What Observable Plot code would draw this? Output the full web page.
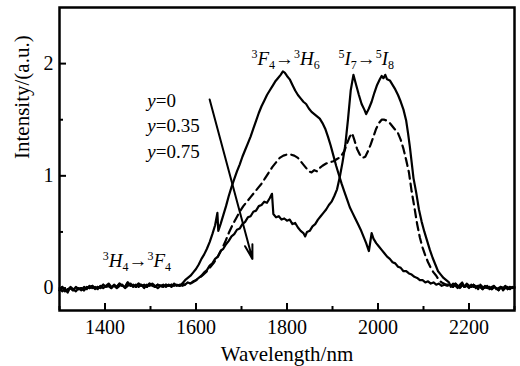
<!DOCTYPE html>
<html><head><meta charset="utf-8">
<script src="https://cdn.jsdelivr.net/npm/d3@7"></script>
<script src="https://cdn.jsdelivr.net/npm/@observablehq/plot@0.6"></script>
<style>body{margin:0;background:#fff} svg{display:block} svg text{font-family:"Liberation Serif","Times New Roman",serif !important;}</style>
</head><body><div id="chart"></div>
<script>
// ---------- data ----------
const baseLeftX = [1300,1306,1312,1318,1324,1330,1336,1342,1348,1354,1360,1366,1372,1378,1384,1390,1396,1402,1408,1414,1420,1426,1432,1438,1444,1450,1456,1462,1468,1474,1480,1486,1492,1498,1504,1510,1516,1522,1528,1534,1540,1546,1552,1558,1564,1570];
const baseLeftY1 = [-0.02,0.01,-0.03,-0.01,0.00,-0.02,0.01,-0.01,0.00,-0.02,0.01,0.00,0.02,-0.01,0.01,0.00,0.03,0.01,0.02,0.00,0.03,0.01,0.04,0.02,0.01,0.05,0.02,0.03,0.01,0.04,0.02,0.03,0.01,0.04,0.02,0.01,0.03,0.02,0.01,0.03,0.02,0.03,0.02,0.03,0.02,0.04];
const baseLeftY2 = [0.00,-0.03,-0.01,-0.04,0.01,-0.01,-0.03,0.00,-0.02,0.01,-0.01,0.02,0.00,0.01,-0.01,0.02,0.00,0.02,0.04,0.01,0.02,0.00,0.02,0.03,0.00,0.02,0.04,0.01,0.03,0.01,0.03,0.00,0.03,0.02,0.04,0.02,0.00,0.02,0.03,0.01,0.03,0.01,0.04,0.02,0.03,0.02];
const baseRightX = [2160,2165,2170,2175,2180,2185,2190,2195,2200,2205,2210,2215,2220,2225,2230,2235,2240,2245,2250,2255,2260,2265,2270,2275,2280,2285,2290,2295,2300];
const baseRightY1 = [0.03,0.01,0.04,0.02,0.00,0.03,0.01,0.04,0.02,0.01,0.03,0.00,0.02,0.01,-0.01,0.02,0.00,0.01,-0.01,0.01,0.00,-0.02,0.01,0.00,0.02,-0.01,0.01,0.00,0.01];
const baseRightY2 = [0.01,0.04,0.02,0.00,0.03,0.05,0.01,0.02,0.00,0.03,0.01,0.02,-0.01,0.03,0.01,0.00,0.02,-0.01,0.01,0.02,-0.01,0.00,0.01,-0.02,0.00,0.01,-0.01,0.01,0.00];

// y = 0 (solid, 3F4->3H6 band)
const midA = [[1576,0.07],[1582,0.09],[1588,0.11],[1594,0.14],[1600,0.17],[1606,0.21],[1612,0.26],[1618,0.30],[1624,0.35],[1630,0.41],[1636,0.48],[1642,0.56],[1647,0.67],[1649,0.51],[1654,0.57],[1660,0.65],[1666,0.73],[1672,0.82],[1678,0.90],[1684,0.97],[1690,1.04],[1696,1.10],[1702,1.17],[1708,1.23],[1714,1.29],[1720,1.35],[1726,1.42],[1732,1.49],[1738,1.56],[1744,1.62],[1750,1.67],[1756,1.72],[1762,1.76],[1768,1.80],[1774,1.84],[1780,1.87],[1786,1.90],[1791,1.93],[1795,1.92],[1800,1.89],[1806,1.86],[1812,1.81],[1818,1.76],[1824,1.72],[1830,1.69],[1836,1.66],[1842,1.64],[1848,1.60],[1854,1.57],[1860,1.55],[1866,1.53],[1872,1.51],[1878,1.47],[1884,1.42],[1890,1.35],[1896,1.27],[1902,1.18],[1908,1.09],[1914,1.01],[1920,0.93],[1926,0.86],[1932,0.79],[1938,0.72],[1944,0.67],[1950,0.62],[1956,0.57],[1962,0.52],[1968,0.46],[1974,0.40],[1980,0.33],[1986,0.49],[1990,0.44],[1996,0.40],[2002,0.37],[2008,0.34],[2014,0.31],[2020,0.28],[2026,0.26],[2032,0.23],[2038,0.22],[2044,0.19],[2050,0.18],[2056,0.15],[2062,0.15],[2068,0.13],[2074,0.12],[2080,0.10],[2086,0.09],[2092,0.07],[2098,0.07],[2104,0.05],[2110,0.06],[2116,0.04],[2122,0.05],[2128,0.03],[2134,0.04],[2140,0.02],[2146,0.03],[2152,0.02]];
// y = 0.35 (dashed)
const midB = [[1576,0.03],[1584,0.04],[1592,0.05],[1600,0.07],[1608,0.09],[1616,0.12],[1624,0.15],[1632,0.19],[1640,0.23],[1648,0.28],[1656,0.34],[1664,0.41],[1672,0.49],[1680,0.56],[1688,0.62],[1696,0.68],[1704,0.73],[1712,0.77],[1720,0.81],[1728,0.85],[1736,0.89],[1744,0.93],[1752,0.98],[1760,1.03],[1768,1.08],[1776,1.12],[1784,1.16],[1792,1.18],[1800,1.19],[1808,1.19],[1816,1.18],[1824,1.16],[1832,1.12],[1840,1.08],[1848,1.04],[1854,1.03],[1860,1.05],[1866,1.04],[1872,1.07],[1878,1.09],[1886,1.11],[1894,1.12],[1902,1.13],[1910,1.15],[1918,1.17],[1926,1.22],[1932,1.29],[1938,1.35],[1943,1.38],[1948,1.32],[1954,1.24],[1960,1.19],[1966,1.16],[1972,1.17],[1978,1.22],[1984,1.28],[1990,1.35],[1996,1.42],[2002,1.47],[2008,1.50],[2014,1.50],[2020,1.49],[2026,1.47],[2032,1.44],[2038,1.41],[2044,1.38],[2050,1.32],[2056,1.24],[2062,1.14],[2068,1.03],[2074,0.86],[2080,0.72],[2086,0.57],[2092,0.45],[2098,0.36],[2104,0.29],[2110,0.23],[2116,0.18],[2122,0.14],[2128,0.11],[2134,0.07],[2140,0.05],[2150,0.03]];
// y = 0.75 (solid, 5I7->5I8 band)
const midC = [[1576,0.03],[1582,0.05],[1588,0.04],[1594,0.06],[1600,0.07],[1606,0.09],[1612,0.11],[1618,0.14],[1624,0.16],[1630,0.20],[1636,0.22],[1642,0.26],[1648,0.28],[1654,0.33],[1660,0.35],[1666,0.39],[1672,0.42],[1678,0.46],[1684,0.48],[1690,0.52],[1696,0.53],[1702,0.57],[1708,0.59],[1714,0.63],[1720,0.64],[1726,0.68],[1732,0.69],[1738,0.73],[1744,0.74],[1750,0.77],[1756,0.76],[1762,0.80],[1767,0.84],[1770,0.66],[1776,0.63],[1782,0.64],[1788,0.61],[1794,0.62],[1800,0.60],[1806,0.61],[1812,0.57],[1818,0.58],[1824,0.54],[1830,0.51],[1836,0.49],[1840,0.46],[1844,0.50],[1850,0.51],[1856,0.55],[1862,0.57],[1868,0.61],[1874,0.64],[1880,0.67],[1886,0.70],[1892,0.74],[1898,0.77],[1904,0.82],[1910,0.88],[1916,0.99],[1922,1.12],[1928,1.27],[1934,1.50],[1940,1.76],[1946,1.90],[1952,1.81],[1958,1.72],[1964,1.64],[1970,1.59],[1974,1.55],[1980,1.60],[1986,1.66],[1992,1.74],[1998,1.81],[2004,1.86],[2008,1.89],[2012,1.87],[2016,1.90],[2020,1.86],[2026,1.85],[2032,1.81],[2038,1.77],[2044,1.72],[2050,1.66],[2056,1.59],[2062,1.49],[2066,1.38],[2070,1.26],[2074,1.12],[2078,0.98],[2084,0.85],[2090,0.70],[2096,0.59],[2102,0.50],[2108,0.42],[2114,0.34],[2120,0.27],[2126,0.21],[2132,0.15],[2138,0.12],[2144,0.09],[2150,0.07],[2156,0.05]];

const xMajorTicks = [1400,1600,1800,2000,2200];
const xMinorTicks = [1300,1500,1700,1900,2100,2300];
const yMajorTicks = [0,1,2];
const yMinorTicks = [0.5,1.5];

const annoText = ["3F4→3H6","5I7→5I8","3H4→3F4","y=0","y=0.35","y=0.75"];
const annoX = [1722,1913,1395,1493,1493,1493];
const annoY = [1.99,1.99,0.19,1.61,1.39,1.16];
const richText = {
  "3F4→3H6": [["3","sup"],["F","it"],["4","sub"],["→",""],["3","sup"],["H","it"],["6","sub"]],
  "5I7→5I8": [["5","sup"],["I","it"],["7","sub"],["→",""],["5","sup"],["I","it"],["8","sub"]],
  "3H4→3F4": [["3","sup"],["H","it"],["4","sub"],["→",""],["3","sup"],["F","it"],["4","sub"]],
  "y=0": [["y","it"],["=0",""]],
  "y=0.35": [["y","it"],["=0.35",""]],
  "y=0.75": [["y","it"],["=0.75",""]]
};
const arrowFrom = [1630, 1.68];
const arrowTo = [1724, 0.26];

// ---------- build ----------
const pts = (xs, ys) => xs.map((x, i) => ({x, y: ys[i]}));
const pairs = (a) => a.map(([x, y]) => ({x, y}));
const seriesA = [...pts(baseLeftX, baseLeftY1), ...pairs(midA), ...pts(baseRightX, baseRightY1)];
const seriesB = [...pts(baseLeftX, baseLeftY1), ...pairs(midB), ...pts(baseRightX, baseRightY1)];
const seriesC = [...pts(baseLeftX, baseLeftY2), ...pairs(midC), ...pts(baseRightX, baseRightY2)];
const annos = annoText.map((t, i) => ({t, x: annoX[i], y: annoY[i]}));
const serif = "Liberation Serif";

const chart = Plot.plot({
  width: 520, height: 366,
  marginLeft: 59, marginRight: 6, marginTop: 7, marginBottom: 56,
  style: {fontFamily: serif, fontSize: "20px", background: "#fff", color: "#000"},
  x: {domain: [1300, 2300], label: null},
  y: {domain: [-0.2, 2.5], label: null},
  marks: [
    Plot.line(seriesB, {x: "x", y: "y", stroke: "#000", strokeWidth: 2.2, strokeDasharray: "8,5"}),
    Plot.line(seriesC, {x: "x", y: "y", stroke: "#000", strokeWidth: 2.2}),
    Plot.line(seriesA, {x: "x", y: "y", stroke: "#000", strokeWidth: 2.2}),
    Plot.axisX(xMajorTicks, {tickSize: -7, text: null, strokeWidth: 2, label: null}),
    Plot.axisX(xMinorTicks, {tickSize: -4, text: null, strokeWidth: 2, label: null}),
    Plot.axisX(xMajorTicks, {tickSize: 0, tickPadding: 9, fontSize: 20, tickFormat: d => String(d), label: null}),
    Plot.axisY(yMajorTicks, {tickSize: -7, text: null, strokeWidth: 2, label: null}),
    Plot.axisY(yMinorTicks, {tickSize: -4, text: null, strokeWidth: 2, label: null}),
    Plot.axisY(yMajorTicks, {tickSize: 0, tickPadding: 6, fontSize: 20, tickFormat: d => String(d), label: null}),
    Plot.frame({stroke: "#000", strokeWidth: 2.5}),
    Plot.arrow([0], {x1: () => arrowFrom[0], y1: () => arrowFrom[1], x2: () => arrowTo[0], y2: () => arrowTo[1],
      stroke: "#000", strokeWidth: 2, headLength: 11, headAngle: 30}),
    Plot.text(annos, {x: "x", y: "y", text: "t", textAnchor: "start", lineAnchor: "bottom", fontSize: 19, fill: "#000"}),
    Plot.text(["Wavelength/nm"], {frameAnchor: "bottom", dy: 50, lineAnchor: "bottom", fontSize: 21, fill: "#000"}),
    Plot.text(["Intensity/(a.u.)"], {frameAnchor: "left", dx: -37, rotate: -90, lineAnchor: "middle", fontSize: 21, fill: "#000"})
  ]
});

// rich text (italic letters, super/subscripts)
d3.select(chart).selectAll("text").each(function() {
  const segs = richText[this.textContent];
  if (!segs) return;
  const el = d3.select(this);
  el.text(null);
  let cur = 0;
  for (const [t, kind] of segs) {
    const shift = kind === "sup" ? -7 : kind === "sub" ? 4 : 0;
    const ts = el.append("tspan").text(t).attr("dy", shift - cur);
    cur = shift;
    if (kind === "sup" || kind === "sub") ts.attr("font-size", 12);
    if (kind === "it") ts.attr("font-style", "italic");
  }
});

document.getElementById("chart").appendChild(chart);
</script>
</body></html>
